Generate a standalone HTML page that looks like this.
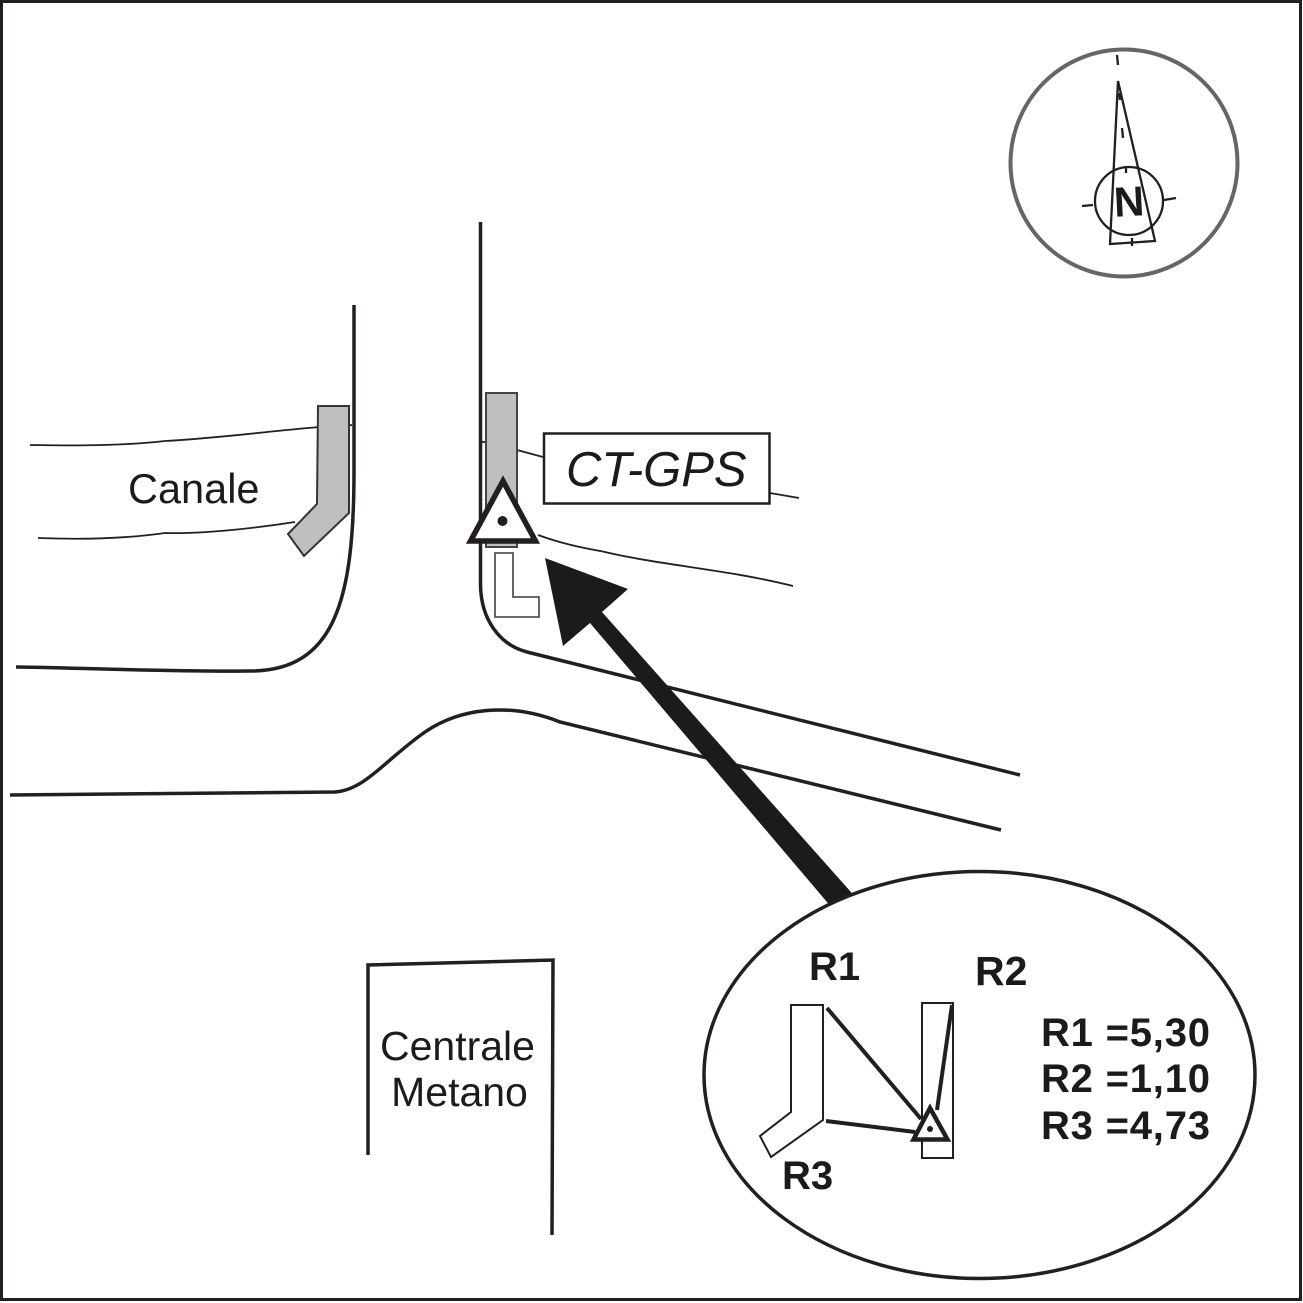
<!DOCTYPE html>
<html>
<head>
<meta charset="utf-8">
<style>
html,body{margin:0;padding:0;background:#fff;}
svg{display:block;}
text{font-family:"Liberation Sans",sans-serif;fill:#1c1a1a;}
</style>
</head>
<body>
<svg width="1303" height="1303" viewBox="0 0 1303 1303" xmlns="http://www.w3.org/2000/svg">
<rect width="1303" height="1303" fill="#fff"/>
<rect x="1.5" y="1.5" width="1299" height="1298" fill="none" stroke="#231f20" stroke-width="3"/>

<!-- thin canal lines -->
<g fill="none" stroke="#231f20" stroke-width="1.8">
<path d="M30 445 C90 446 130 445 165 441 C220 438 280 430 320 427 L352 425"/>
<path d="M38 538 C90 540 130 538 165 533 C200 534 250 529 295 522"/>
<path d="M480 442 L487 442"/>
<path d="M517 450 L543 457"/>
<path d="M770 493 L799 498"/>
<path d="M538 535 C565 545 590 549 605 552 C660 565 730 570 793 586"/>
</g>

<!-- gray structures -->
<path d="M318 406 H349 V513 L304 556 L288 534 L317 504 Z" fill="#bfbfbf" stroke="#333" stroke-width="2"/>
<rect x="486" y="393" width="31" height="154" fill="#bfbfbf" stroke="#444" stroke-width="2"/>
<path d="M495 553 H513 V597 H539 V617 H495 Z" fill="#fff" stroke="#555" stroke-width="1.8"/>

<!-- road lines -->
<g fill="none" stroke="#231f20" stroke-width="3.5">
<path d="M480.5 222 V585 C481 620 500 645 527 652 L1020 775"/>
<path d="M354 305 V470 C354 600 335 671 250 671 C170 672 90 668 16 667"/>
<path d="M10 795 L335 792 C365 790 385 760 425 732 C460 708 510 702 560 722 L1001 830"/>
<path d="M368 1155 V965 L553 960 L552 1235"/>
</g>

<!-- CT-GPS box -->
<rect x="544" y="433.5" width="225.5" height="70" fill="#fff" stroke="#231f20" stroke-width="2.5"/>
<text x="566" y="486" font-size="49" font-style="italic">CT-GPS</text>

<!-- station triangle -->
<path d="M503 481 L470.5 541 H535.5 Z" fill="#fff" stroke="#231f20" stroke-width="5.5"/>
<circle cx="502.5" cy="521" r="5" fill="#231f20"/>

<!-- big arrow, cut by the ellipse -->
<path d="M545 558 L628 589 L602 612 L858 900 L838 915 L590 623 L563 646 Z" fill="#1c1a1a"/>

<!-- ellipse -->
<ellipse cx="979.5" cy="1075" rx="275.5" ry="203.5" fill="#fff" stroke="#231f20" stroke-width="3.5"/>

<!-- labels -->
<text x="128" y="503" font-size="41.5">Canale</text>
<text x="457.5" y="1060" font-size="41" text-anchor="middle">Centrale</text>
<text x="459.5" y="1106" font-size="41" text-anchor="middle">Metano</text>

<!-- compass -->
<circle cx="1124" cy="163" r="113.5" fill="none" stroke="#666" stroke-width="4"/>
<g fill="none" stroke="#231f20">
<path d="M1118 81 L1110 244 L1155 241 Z" stroke-width="2.3"/>
<circle cx="1129" cy="201" r="34" stroke-width="2.3"/>
<path d="M1117 55 L1118 65 M1119 93 L1120 100 M1122 128 L1123 138 M1126 166 L1126 173 M1132 238 L1132 246 M1082 206 L1093 205 M1164 200 L1176 198" stroke-width="2.3"/>
</g>
<text x="1129" y="216" font-size="42" font-weight="bold" text-anchor="middle" transform="rotate(-3 1129 201)">N</text>

<!-- inset -->
<path d="M791 1005 H823 V1120 L771 1157 L760 1136 L791 1112 Z" fill="#fff" stroke="#231f20" stroke-width="2"/>
<rect x="922" y="1003" width="31" height="155" fill="#fff" stroke="#231f20" stroke-width="2"/>
<g stroke="#231f20" stroke-width="4" fill="none">
<path d="M827 1008 L921 1119"/>
<path d="M952 1005 L937 1110"/>
<path d="M826 1121 L915 1132"/>
</g>
<path d="M930 1108 L913.5 1139.5 H947.5 Z" fill="#fff" stroke="#231f20" stroke-width="4.5"/>
<circle cx="930" cy="1129" r="3" fill="#231f20"/>

<g font-weight="bold">
<text x="809" y="980" font-size="40">R1</text>
<text x="975" y="985" font-size="41">R2</text>
<text x="782" y="1189" font-size="40">R3</text>
<text x="1041" y="1046" font-size="40" textLength="169" lengthAdjust="spacing">R1 =5,30</text>
<text x="1041" y="1092" font-size="40" textLength="169" lengthAdjust="spacing">R2 =1,10</text>
<text x="1041" y="1139" font-size="40" textLength="169" lengthAdjust="spacing">R3 =4,73</text>
</g>
</svg>
</body>
</html>
